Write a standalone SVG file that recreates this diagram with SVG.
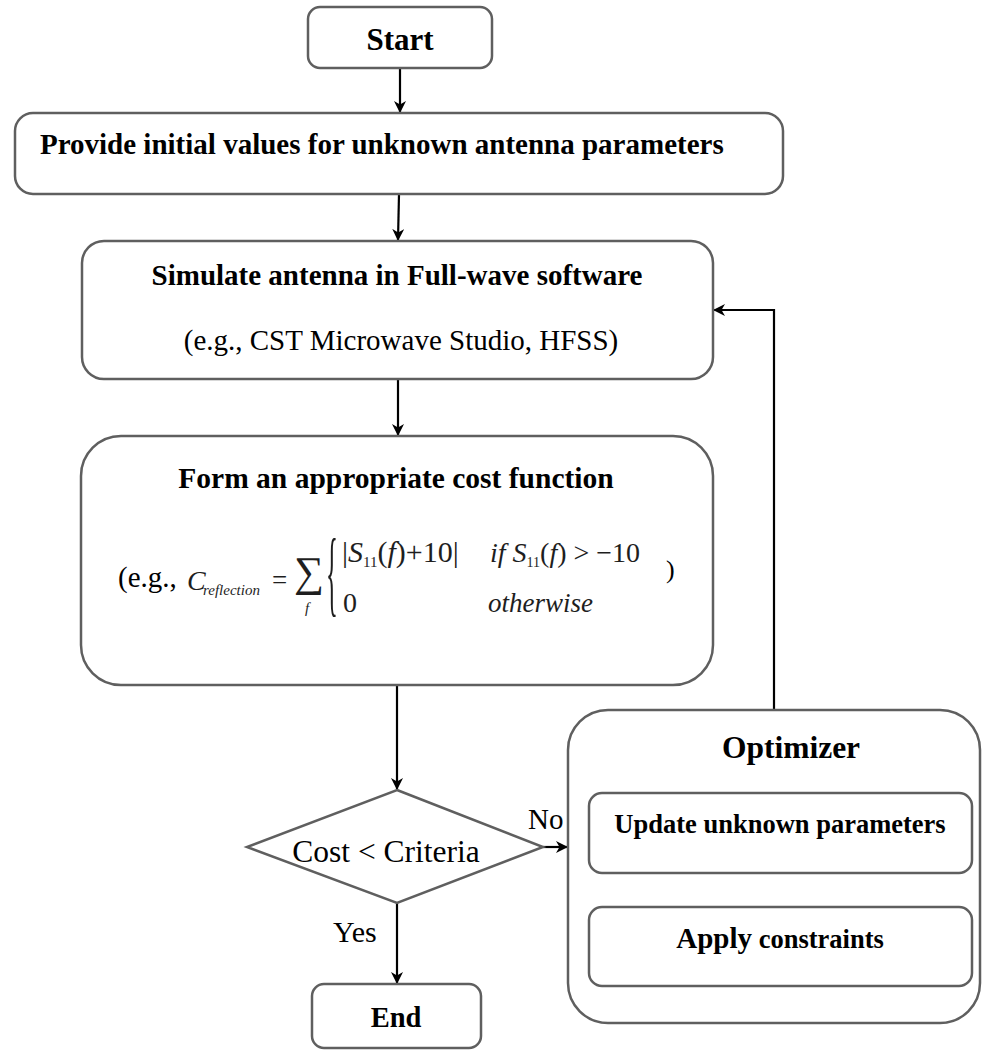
<svg xmlns="http://www.w3.org/2000/svg" width="983" height="1055" viewBox="0 0 983 1055">
<defs>
<style>
.box{fill:#fff;stroke:#5f5f5f;stroke-width:2.5}
.t{font-family:"Liberation Serif","Times New Roman",serif;fill:#000}
.b{font-weight:bold}
.c{fill:none;stroke:#000;stroke-width:2.2}
.m{font-family:"Liberation Serif","Times New Roman",serif;fill:#1e1e1e}
.i{font-style:italic}
</style>
<marker id="ah" viewBox="0 0 12 12" refX="11" refY="6" markerWidth="12" markerHeight="12" markerUnits="userSpaceOnUse" orient="auto">
<path d="M0,0 L12,6 L0,12 L3.5,6 z" fill="#000"/>
</marker>
</defs>

<g id="connectors">
<line class="c" x1="400" y1="68" x2="400" y2="112" marker-end="url(#ah)"/>
<line class="c" x1="399" y1="194" x2="398" y2="240" marker-end="url(#ah)"/>
<line class="c" x1="398" y1="379" x2="398" y2="435" marker-end="url(#ah)"/>
<line class="c" x1="397" y1="685" x2="397" y2="789" marker-end="url(#ah)"/>
<line class="c" x1="397" y1="903" x2="397" y2="983" marker-end="url(#ah)"/>
<line class="c" x1="543" y1="847" x2="567" y2="847" marker-end="url(#ah)"/>
<line class="c" x1="781" y1="907" x2="781" y2="874" marker-end="url(#ah)"/>
<polyline class="c" points="774,710 774,310 714,310" marker-end="url(#ah)"/>
<text class="t" x="528" y="829" font-size="29">No</text>
<text class="t" x="333" y="942" font-size="30">Yes</text>
</g>

<g id="start">
<rect class="box" x="308" y="7" width="184" height="61" rx="12"/>
<text class="t b" x="400" y="50" font-size="31" text-anchor="middle">Start</text>
</g>

<g id="provide">
<rect class="box" x="15" y="113" width="768" height="81" rx="18"/>
<text class="t b" x="40" y="154" font-size="29">Provide initial values for unknown antenna parameters</text>
</g>

<g id="simulate">
<rect class="box" x="82" y="241" width="631" height="138" rx="22"/>
<text class="t b" x="397" y="285" font-size="29" text-anchor="middle">Simulate antenna in Full-wave software</text>
<text class="t" x="401" y="350" font-size="29" text-anchor="middle">(e.g., CST Microwave Studio, HFSS)</text>
</g>

<g id="cost">
<rect class="box" x="81" y="436" width="632" height="249" rx="40"/>
<text class="t b" x="396" y="488" font-size="29.5" text-anchor="middle">Form an appropriate cost function</text>
<text class="t" x="118" y="587" font-size="29">(e.g.,</text>
<text class="m i" x="187" y="590" font-size="28">C</text>
<text class="m i" x="203" y="595" font-size="15">reflection</text>
<text class="m" x="272" y="589" font-size="27">=</text>
<text class="m" x="294" y="586" font-size="42">∑</text>
<text class="m i" x="305" y="613" font-size="15">f</text>
<text class="m" transform="translate(326,604) scale(0.65,2.5)" font-size="38">{</text>
<text class="m" x="342" y="562" font-size="30">|<tspan class="i">S</tspan><tspan font-size="15" dy="5">11</tspan><tspan dy="-5">(</tspan><tspan class="i">f</tspan>)+10|</text>
<text class="m" x="490" y="562" font-size="28"><tspan class="i">if S</tspan><tspan font-size="14" dy="5">11</tspan><tspan dy="-5">(</tspan><tspan class="i">f</tspan>) &gt; −10</text>
<text class="m" x="343" y="612" font-size="28">0</text>
<text class="m i" x="488" y="612" font-size="27">otherwise</text>
<text class="t" x="666" y="578" font-size="26">)</text>
</g>

<g id="decision">
<polygon class="box" points="397,790 543,847 397,903 247,847"/>
<text class="t" x="386" y="862" font-size="31.5" text-anchor="middle">Cost &lt; Criteria</text>
</g>

<g id="end">
<rect class="box" x="312" y="984" width="169" height="64" rx="12"/>
<text class="t b" x="396" y="1027" font-size="28.5" text-anchor="middle">End</text>
</g>

<g id="optimizer">
<rect class="box" x="568" y="710" width="412" height="313" rx="40"/>
<text class="t b" x="791" y="758" font-size="31.5" text-anchor="middle">Optimizer</text>
</g>

<g id="update">
<rect class="box" x="589" y="793" width="383" height="80" rx="13"/>
<text class="t b" x="780" y="833" font-size="26.5" text-anchor="middle">Update unknown parameters</text>
</g>

<g id="apply">
<rect class="box" x="589" y="907" width="383" height="79" rx="13"/>
<text class="t b" x="780" y="948" text-anchor="middle"><tspan font-size="29">Apply</tspan><tspan font-size="26.5"> constraints</tspan></text>
</g>
</svg>
